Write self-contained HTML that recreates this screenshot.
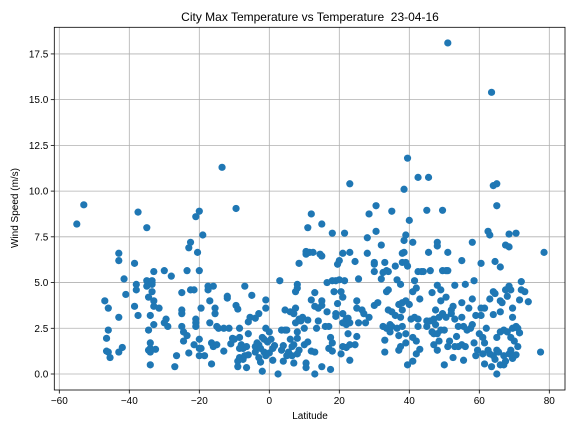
<!DOCTYPE html>
<html><head><meta charset="utf-8">
<style>
html,body{margin:0;padding:0;background:#fff;}
svg{display:block;font-family:"Liberation Sans","DejaVu Sans",sans-serif;}
</style></head>
<body>
<svg id="chart" width="576" height="432" viewBox="0 0 576 432" xmlns="http://www.w3.org/2000/svg">
<rect width="576" height="432" fill="#fff"/>
<text x="310" y="21" text-anchor="middle" font-size="12" fill="#000">City Max Temperature vs Temperature &#160;23-04-16</text>
<g id="grid"></g>
<g id="points"></g>
<rect x="54.3" y="27.3" width="510.7" height="362.7" fill="none" stroke="#000" stroke-width="0.8"/>
<g id="xticks"></g>
<g id="yticks"></g>
<text x="310" y="419" text-anchor="middle" font-size="10" fill="#000">Latitude</text>
<text x="0" y="0" transform="translate(18,208) rotate(-90)" text-anchor="middle" font-size="10" fill="#000">Wind Speed (m/s)</text>
</svg>
<script>
const xTicks = [-60,-40,-20,0,20,40,60,80];
const yTicks = [0,2.5,5,7.5,10,12.5,15,17.5];
const yTickLabels = ["0.0","2.5","5.0","7.5","10.0","12.5","15.0","17.5"];
const latitudes = [-55,-53,-47,-46.5,-46.5,-46,-46,-46,-45.5,-43,-43,-43,-43,-42,-41.5,-41,
-38.5,-38.5,-38,-38,-37.5,-37.5,-35,-35,-35,-34.5,-34.5,-34.5,-34,-34,-34,-34,-34,-33.5,-33.5,-33.5,-33.5,-33,-33,-33,-33,-32.5,-31.5,-30,-30,-29.5,-29,-28,-27,-26.5,-25,-25,-25,-25,-24.5,-24.5,-23.5,-23.5,-23,-23,-22.5,-22.5,-21.5,-21.5,-21,-21,-21,-21,-20.5,-20,-20,-20,-20,-20,-19.5,-19.5,-19,-18.5,-17.5,-17.5,-17,-17,-16.5,-16.5,-16,-16,-15.5,-15.5,-15,-15,-14.5,-13.5,-13,-13,-12,-12,-11.5,-11,-10.5,-10,-9.5,-9.5,-9,-9,-9,-8.5,-8.5,-8.5,-8.5,-8,-7.5,-7.5,-7,-7,-6.5,-6.5,-6,-6,-6,-5.5,-5,-4,-4,-4,-3.5,-3,-3,-3,-2.5,-2.5,-2,-2,-1.5,-1.5,-1,-1,-1,-1,-0.5,0,0,0.5,1,1,1.5,2.5,3,3.5,3.5,4,4,4.5,4.5,5,5,5.5,6,6,6.5,6.5,7,7,7,7.5,7.5,7.5,8,8,8,8,8,8.5,8.5,8.5,9,9.5,10,10,10.5,10.5,10.5,10.5,11,11,11,11.5,12,12,12,12.5,13,13,13,13,13.5,14,14,14.5,15,15,15,15,15,16,16.5,16.5,17,17,17.5,17.5,18,18,18,18,18.5,19,19,19,19.5,19.5,20,20,20.5,20.5,21,21,21,21,21,21.5,21.5,22,22,22,22.5,22.5,23,23,23,23,23,24.5,24.5,25,25,25,25.5,25.5,26.5,27,27.5,28,28,28.5,28.5,30,30,30,30,30.5,30.5,31,32,32,32.5,32.5,33,33,33,33.5,33.5,33.5,34,34,34,34.5,34.5,35,35,35,36,36,36.5,36.5,37,37,37,37.5,37.5,37.5,38,38,38,38,38,38.5,38.5,38.5,39,39,39,39,39,39.5,39.5,39.5,40,40,40.5,41,41,41,41,41.5,41.5,42,42,42,42.5,42.5,42.5,42.5,43,43,43.5,44,45,45,45,45.5,45.5,46,46,46.5,46.5,47,47,47,47.5,47.5,48,48,48,48,48,48.5,48.5,49,49,49,49.5,49.5,49.5,50,50,50.5,50.5,50.5,51,51,51,51,51.5,52,52,52.5,52.5,53,53,53,53.5,54,54,55,55,55,55,55.5,55.5,56,56,56.5,57,57.5,58,58,58,58.5,58.5,59,59,59.5,60,60.5,60.5,60.5,61,61,61.5,61.5,61.5,62,62.5,62.5,63,63,63,63.5,63.5,64,64,64,64,64.5,64.5,64.5,65,65,65,65,65,65.5,66,66,66,66,66,66.5,67,67,67,67.5,67.5,67.5,68,68,68.5,68.5,68.5,68.5,69,69,69,69.5,69.5,69.5,69.5,70,70,70.5,70.5,70.5,71,71,71.5,71.5,72,72,73,74,77.5,78.5];
const windSpeeds = [8.2,9.25,4.0,1.95,1.25,2.4,3.6,1.2,0.9,6.2,6.6,3.1,1.2,1.45,5.2,4.35,
3.7,6.05,4.9,4.6,8.85,3.2,8.0,5.1,4.8,4.2,2.4,1.3,3.2,1.4,1.7,0.5,1.2,5.1,4.5,5.0,4.9,4.0,3.7,5.6,2.7,1.35,3.6,5.65,2.8,3.0,2.6,5.35,0.4,1.0,2.6,3.5,3.3,4.45,2.3,1.8,5.65,2.1,6.9,1.15,7.2,4.6,4.6,1.6,8.6,3.0,2.8,2.6,6.65,1.4,1.9,1.0,8.9,5.65,3.6,1.4,7.6,1.0,4.8,4.6,4.0,2.8,0.55,1.7,1.5,4.8,3.3,3.6,2.6,1.6,2.5,11.3,2.5,1.25,4.15,4.25,2.5,1.65,1.95,1.9,9.05,3.75,3.55,0.4,0.7,2.5,2.0,1.4,0.9,1.6,1.4,0.8,4.8,1.0,1.5,0.35,2.2,2.85,1.05,3.1,4.3,3.05,1.5,1.2,1.7,3.3,1.6,0.9,0.65,1.4,0.15,2.0,1.9,1.2,3.6,4.05,2.5,1.0,1.75,2.3,1.15,1.9,0.75,1.4,1.55,0.0,5.1,2.4,1.3,1.55,0.7,3.5,2.4,1.0,2.4,1.2,3.4,1.9,1.5,1.0,0.6,3.3,1.6,4.5,3.6,2.8,4.9,4.7,2.3,1.95,1.1,6.05,3.0,1.3,2.9,3.1,1.6,2.5,6.55,6.7,0.6,0.35,1.75,2.95,8.0,6.65,8.75,4.05,1.25,6.65,3.7,1.2,0.0,4.45,2.5,3.6,2.9,6.55,8.2,6.45,4.0,3.75,0.4,2.6,3.4,5.0,1.4,2.6,2.0,0.25,1.7,1.25,7.7,5.1,4.5,3.15,3.3,5.1,3.85,6.0,5.15,6.2,4.5,1.1,6.6,4.2,3.3,2.8,1.5,7.7,5.1,3.0,2.7,1.45,2.2,3.05,10.4,6.65,0.75,2.8,1.6,6.15,1.6,4.0,3.6,2.05,5.2,2.8,3.5,3.3,2.8,7.45,6.6,8.75,3.1,6.1,6.0,5.6,3.75,9.2,7.8,3.9,7.05,5.2,5.55,2.6,1.2,1.85,6.1,5.65,4.5,2.5,4.6,5.6,3.5,2.7,2.3,8.9,3.4,2.6,5.9,3.2,5.15,2.5,3.8,2.1,1.3,4.9,3.1,1.5,6.6,6.1,3.9,3.5,2.6,10.1,7.3,6.65,7.6,6.1,4.0,2.2,1.7,11.8,5.9,0.5,8.4,3.8,3.0,7.2,4.5,2.0,0.7,5.1,3.1,4.7,1.8,1.1,10.75,5.6,3.0,2.6,4.1,1.35,5.6,5.6,8.95,2.9,2.6,10.75,6.65,5.65,2.9,4.45,2.3,3.0,1.6,2.2,3.5,2.7,7.2,7.0,4.85,2.2,1.3,1.8,3.1,4.0,4.6,2.4,8.95,5.65,3.3,0.5,2.4,5.65,4.2,3.1,18.1,6.65,5.65,1.5,1.8,3.5,3.3,3.7,0.9,4.85,3.0,1.5,2.05,1.5,2.6,6.2,3.9,3.1,1.6,0.75,2.6,4.9,1.5,2.4,3.6,2.5,7.2,4.1,2.7,5.1,1.7,3.2,1.0,1.3,2.2,6.05,3.6,3.2,1.1,2.0,3.6,1.7,0.55,2.5,7.8,1.3,7.6,4.1,1.1,15.4,0.4,10.3,4.5,3.25,1.0,6.15,4.4,0.8,10.4,9.2,2.0,0.0,1.3,1.2,5.85,3.4,4.0,2.3,0.5,3.9,2.4,1.0,0.5,7.05,4.6,0.7,4.25,2.3,7.65,6.95,4.8,1.1,4.6,2.0,1.3,3.6,3.1,2.5,0.85,1.8,1.0,7.7,2.6,1.05,2.5,1.5,4.05,2.25,5.05,4.6,4.5,3.95,1.2,6.65];

const X0 = 269.3, XS = 3.5, Y0 = 374, YS = 18.29;
const L = 54.3, R = 565, T = 27.3, B = 390;
function xPos(v){ return X0 + v*XS; }
function yPos(v){ return Y0 - v*YS; }
const NS = "http://www.w3.org/2000/svg";
function mk(tag, attrs){ const e = document.createElementNS(NS, tag); for (const k in attrs) e.setAttribute(k, attrs[k]); return e; }

const grid = document.getElementById('grid');
const xt = document.getElementById('xticks');
const yt = document.getElementById('yticks');
xTicks.forEach(v => {
  const x = xPos(v);
  const g = mk('line', {x1:x, x2:x, y1:T, y2:B, stroke:'#b0b0b0', 'stroke-width':0.8});
  
  
  grid.appendChild(g);
  const t = mk('line', {x1:x, x2:x, y1:B, y2:B+3.5, stroke:'#000', 'stroke-width':0.8});
  
  
  xt.appendChild(t);
  const lb = mk('text', {x:x, y:B+14, 'text-anchor':'middle', 'font-size':10, fill:'#000'});
  lb.textContent = v < 0 ? '\u2212' + Math.abs(v) : String(v);
  
  
  xt.appendChild(lb);
});
yTicks.forEach((v, i) => {
  const y = yPos(v);
  const g = mk('line', {x1:L, x2:R, y1:y, y2:y, stroke:'#b0b0b0', 'stroke-width':0.8});
  
  
  grid.appendChild(g);
  const t = mk('line', {x1:L-3.5, x2:L, y1:y, y2:y, stroke:'#000', 'stroke-width':0.8});
  
  
  yt.appendChild(t);
  const lb = mk('text', {x:L-6, y:y+3.5, 'text-anchor':'end', 'font-size':10, fill:'#000'});
  lb.textContent = yTickLabels[i];
  
  
  yt.appendChild(lb);
});
const pts = document.getElementById('points');
const n = Math.min(latitudes.length, windSpeeds.length);
for (let i = 0; i < n; i++) {
  const c = mk('circle', {cx:xPos(latitudes[i]), cy:yPos(windSpeeds[i]), r:3.6, fill:'#1f77b4'});
  
  
  pts.appendChild(c);
}
</script>
</body></html>
